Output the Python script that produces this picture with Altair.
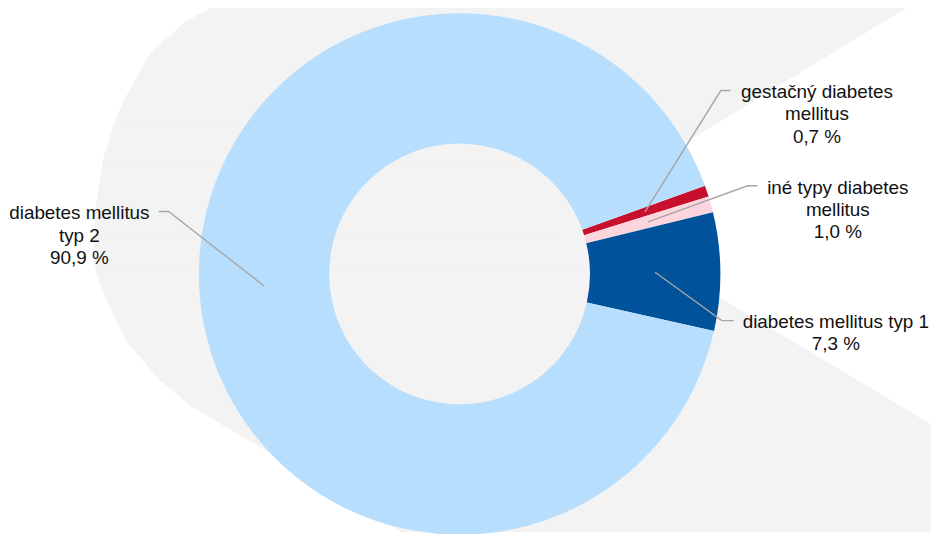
import math
import altair as alt
import pandas as pd

# ---------------- data ----------------
categories = [
    "gestačný diabetes mellitus",
    "iné typy diabetes mellitus",
    "diabetes mellitus typ 1",
    "diabetes mellitus typ 2",
]
shares = [0.7, 1.0, 7.3, 90.9]
label_texts = [
    "gestačný diabetes\nmellitus\n0,7 %",
    "iné typy diabetes\nmellitus\n1,0 %",
    "diabetes mellitus typ 1\n7,3 %",
    "diabetes mellitus\ntyp 2\n90,9 %",
]
colors = ["#c8102e", "#fcd5dd", "#00529b", "#b8defd"]

# ---------------- layout (page pixels) ----------------
W, H = 931, 526          # drawing area (page minus 8px margin)
OFF = 8
CX, CY = 463.5, 274.0    # donut centre
R_OUT, R_IN = 263, 131.5
START_DEG = 70.2         # first slice starts here (clockwise from 12 o'clock)
BG = "#f3f3f3"

# label anchors (block centre) and leader elbow points
label_xy = [(824, 90.5), (845, 187), (843, 322), (80, 213)]
leader_end = [(737, 89), (764, 185), (740, 321), (160, 211)]
leader_elbow = [(727, 89), (754, 185), (728, 321), (170, 211)]

# decorative background shape (light grey), as horizontal band: y, left x, right x
bg_y = [0, 20, 50, 90, 120, 160, 200, 210, 240, 267, 290, 340, 380, 407, 427, 447, 534]
bg_xl = [223, 187, 153, 130, 116, 104, 98, 97, 95, 96, 103, 127, 160, 193, 226, 260, 405]
bg_xr = [923, 890, 841, 775, 726, 660, 594, 578, 628, 673, 712, 795, 862, 907, 940, 940, 940]

xs = alt.Scale(domain=[OFF, OFF + W], range=[0, W], nice=False, zero=False)
ys = alt.Scale(domain=[OFF, OFF + H], range=[0, H], nice=False, zero=False)

# ---------------- background (one trapezoid per band) ----------------
bg_rows = []
for i in range(len(bg_y) - 1):
    for j in (i, i + 1):
        bg_rows.append({"seg": i, "yb": bg_y[j], "xl": bg_xl[j], "xr": bg_xr[j]})
bg_df = pd.DataFrame(bg_rows)
background = alt.Chart(bg_df).mark_area(
    orient="horizontal", fill=BG, stroke=BG, strokeWidth=1,
    opacity=1, fillOpacity=1, interpolate="linear",
).encode(
    y=alt.Y("yb:Q", scale=ys, axis=None),
    x=alt.X("xl:Q", scale=xs, axis=None),
    x2=alt.X2("xr:Q"),
    detail="seg:N",
)

# grey disc behind the donut hole
hole = alt.Chart(pd.DataFrame({"v": [1]})).mark_arc(
    outerRadius=R_IN + 3, innerRadius=0, fill=BG, stroke=None
).encode(
    theta=alt.Theta("v:Q"),
    x=alt.value(CX - OFF),
    y=alt.value(CY - OFF),
)

# ---------------- donut ----------------
donut_df = pd.DataFrame({"cat": categories, "share": shares, "idx": list(range(len(categories)))})
a0 = math.radians(START_DEG)
donut = alt.Chart(donut_df).mark_arc(
    innerRadius=R_IN, outerRadius=R_OUT
).encode(
    theta=alt.Theta("share:Q", stack=True, scale=alt.Scale(range=[a0, a0 + 2 * math.pi])),
    color=alt.Color("cat:N", scale=alt.Scale(domain=categories, range=colors), legend=None),
    order=alt.Order("idx:Q"),
    x=alt.value(CX - OFF),
    y=alt.value(CY - OFF),
)

# ---------------- leader lines ----------------
total = sum(shares)
r_mid = (R_IN + R_OUT) / 2
rows = []
cum = 0.0
for i, (cat, s) in enumerate(zip(categories, shares)):
    mid = math.radians(START_DEG + (cum + s / 2) / total * 360)
    cum += s
    px = CX + r_mid * math.sin(mid)
    py = CY - r_mid * math.cos(mid)
    pts = [leader_end[i], leader_elbow[i], (px, py)]
    for k, (x, y) in enumerate(pts):
        rows.append({"cat": cat, "o": k, "x": x, "y": y})
lines_df = pd.DataFrame(rows)
leaders = alt.Chart(lines_df).mark_line(color="#a6a6a6", strokeWidth=1.4).encode(
    x=alt.X("x:Q", scale=xs, axis=None),
    y=alt.Y("y:Q", scale=ys, axis=None),
    detail="cat:N",
    order="o:Q",
)

# ---------------- labels ----------------
lab_df = pd.DataFrame({
    "cat": categories,
    "text": label_texts,
    "x": [p[0] for p in label_xy],
    "y": [p[1] for p in label_xy],
})
labels = alt.Chart(lab_df).mark_text(
    align="center", baseline="middle", lineBreak="\n",
    font="Liberation Sans", fontSize=19, lineHeight=22.5, color="#111111",
).encode(
    x=alt.X("x:Q", scale=xs, axis=None),
    y=alt.Y("y:Q", scale=ys, axis=None),
    text="text:N",
)

chart = alt.layer(background, hole, donut, leaders, labels).properties(
    width=W, height=H,
    autosize=alt.AutoSizeParams(type="none"),
    padding=0,
    background="white",
).configure_view(stroke=None)

chart.save("out.html", embed_options={"renderer": "svg", "actions": False})
